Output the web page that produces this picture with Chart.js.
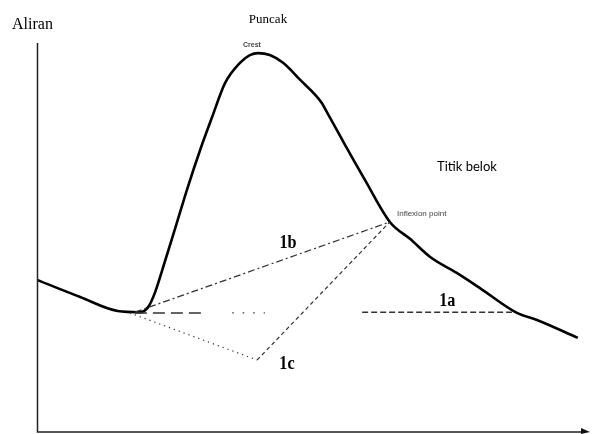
<!DOCTYPE html>
<html>
<head>
<meta charset="utf-8">
<script src="https://cdn.jsdelivr.net/npm/chart.js@4.4.1/dist/chart.umd.min.js"></script>
<style>
html,body{margin:0;padding:0;background:#fff;}
#c{display:block;}
</style>
</head>
<body>
<canvas id="c" width="595" height="434"></canvas>
<script>
// Hydrograph (time in % of span, flow in % of span)
const hydroX = [0, 7.8, 14.6, 18.6, 20.1, 21.3, 23.1, 25.0, 27.1, 29.5, 31.6, 34.0, 36.7, 38.5, 40.0, 42.1, 44.5, 47.6, 51.5, 52.4, 55.7, 59.3, 63.8, 67.5, 71.1, 75.9, 80.1, 86.8, 90.4, 97.8];
const hydroY = [39.1, 34.7, 31.1, 30.8, 32.1, 35.7, 43.7, 52.4, 62.2, 72.5, 80.7, 89.7, 94.9, 96.9, 97.4, 96.9, 94.9, 90.5, 84.6, 82.3, 73.8, 64.8, 54.0, 49.6, 45.0, 40.9, 37.0, 30.6, 28.8, 24.2];

// Separation lines
const line1bX = [17.7, 63.8];
const line1bY = [30.8, 54.0];
const line1cDotX = [16.8, 39.8];
const line1cDotY = [30.6, 18.5];
const line1cDashX = [39.8, 63.8];
const line1cDashY = [18.5, 54.0];
const horizDashX = [17.7, 30.7];
const horizDashY = [30.6, 30.6];
const horizDotX = [35.3, 41.2];
const horizDotY = [30.6, 30.6];
const line1aX = [58.8, 85.9];
const line1aY = [30.8, 30.8];

// Line labels
const labelTexts = ["1a", "1b", "1c"];
const labelX = [74.2, 45.4, 45.2];
const labelY = [33.7, 48.6, 17.5];

function pts(xs, ys){ return xs.map((x,i)=>({x:x, y:ys[i]})); }

const textPlugin = {
  id: 'texts',
  afterDatasetsDraw(chart){
    const {ctx, scales:{x, y}, chartArea:a} = chart;
    ctx.save();
    // axes
    ctx.strokeStyle = '#222';
    ctx.lineWidth = 1.5;
    ctx.beginPath();
    ctx.moveTo(a.left + 0.5, a.top);
    ctx.lineTo(a.left + 0.5, a.bottom);
    ctx.lineTo(a.right - 7, a.bottom);
    ctx.stroke();
    ctx.fillStyle = '#111';
    ctx.beginPath();
    ctx.moveTo(a.right, a.bottom);
    ctx.lineTo(a.right - 9, a.bottom - 4);
    ctx.lineTo(a.right - 9, a.bottom + 2);
    ctx.closePath();
    ctx.fill();

    // line labels
    ctx.fillStyle = '#000';
    ctx.font = 'bold 18px "Liberation Serif"';
    ctx.textAlign = 'center';
    ctx.textBaseline = 'middle';
    labelTexts.forEach((t,i)=>{
      ctx.save();
      ctx.translate(x.getPixelForValue(labelX[i]), y.getPixelForValue(labelY[i]));
      ctx.scale(0.9, 1.1);
      ctx.fillText(t, 0, 0);
      ctx.restore();
    });

    // annotation texts
    ctx.font = '16px "Liberation Serif"';
    ctx.textAlign = 'left';
    ctx.fillText('Aliran', 12, 25);
    ctx.font = '13px "Liberation Serif"';
    ctx.textAlign = 'center';
    ctx.fillText('Puncak', 268, 20);
    ctx.font = '13px Lato';
    ctx.textAlign = 'left';
    ctx.fillText('Titik belok', 437, 167);
    ctx.fillStyle = '#444';
    ctx.font = '8px "Liberation Sans"';
    ctx.fillText('Inflexion point', 397, 214);
    ctx.font = 'bold 7px "Liberation Sans"';
    ctx.textAlign = 'center';
    ctx.fillText('Crest', 252, 45);
    ctx.restore();
  }
};

const thin = {borderColor:'#333', borderWidth:1.2, pointRadius:0, fill:false, tension:0};

new Chart(document.getElementById('c'), {
  type: 'scatter',
  data: {
    datasets: [
      Object.assign({}, thin, {data: pts(line1bX, line1bY), borderDash:[7,3,2,3], showLine:true}),
      Object.assign({}, thin, {data: pts(line1cDotX, line1cDotY), borderDash:[1.2,4], showLine:true}),
      Object.assign({}, thin, {data: pts(line1cDashX, line1cDashY), borderDash:[4,3], showLine:true}),
      Object.assign({}, thin, {data: pts(horizDashX, horizDashY), borderDash:[12,6], borderWidth:1.6, showLine:true}),
      Object.assign({}, thin, {data: pts(horizDotX, horizDotY), borderDash:[1.5,9], showLine:true}),
      Object.assign({}, thin, {data: pts(line1aX, line1aY), borderDash:[6,3], borderWidth:1.5, showLine:true}),
      {data: pts(hydroX, hydroY), showLine:true, borderColor:'#000', borderWidth:2.6, pointRadius:0, fill:false, tension:0.3, cubicInterpolationMode:'monotone'}
    ]
  },
  options: {
    responsive: false,
    animation: false,
    layout: {padding: {left: 37, top: 43, right: 5, bottom: 2}},
    plugins: {legend: {display:false}, tooltip: {enabled:false}},
    scales: {
      x: {type:'linear', min:0, max:100, display:false},
      y: {type:'linear', min:0, max:100, display:false}
    }
  },
  plugins: [textPlugin]
});
</script>
</body>
</html>
